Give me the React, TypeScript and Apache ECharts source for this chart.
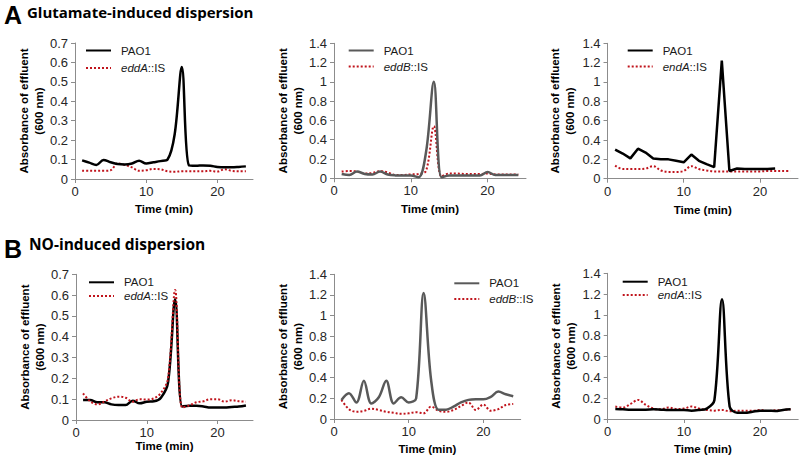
import React, { useEffect, useRef } from 'react';
import * as echarts from 'echarts';

const times = [1, 2, 3, 4, 5, 6, 7, 8, 9, 10, 11, 12, 13, 14, 15, 16, 17, 18, 19, 20, 21, 22, 23, 24];
const timesShort = [1, 2, 3, 4, 5, 6, 7, 8, 9, 10, 11, 12, 13, 14, 15, 16, 17, 18, 19, 20, 21, 22];
const xTicks = [0, 10, 20];

// A: Glutamate-induced dispersion
const a1Pao1 = [0.096, 0.084, 0.072, 0.098, 0.086, 0.077, 0.075, 0.08, 0.094, 0.08, 0.086, 0.092, 0.1, 0.23, 0.577, 0.07, 0.068, 0.07, 0.068, 0.062, 0.06, 0.06, 0.062, 0.065];
const a1Edda = [0.043, 0.042, 0.042, 0.042, 0.045, 0.08, 0.072, 0.06, 0.042, 0.045, 0.052, 0.05, 0.04, 0.037, 0.04, 0.04, 0.04, 0.04, 0.042, 0.038, 0.05, 0.042, 0.04, 0.04];
const a2Pao1 = [0.045, 0.035, 0.07, 0.045, 0.04, 0.07, 0.04, 0.03, 0.028, 0.03, 0.01, 0.28, 1.0, 0.01, 0.03, 0.03, 0.03, 0.03, 0.03, 0.065, 0.035, 0.035, 0.035, 0.035];
const a2Eddb = [0.07, 0.075, 0.07, 0.05, 0.055, 0.075, 0.06, 0.035, 0.035, 0.04, 0.045, 0.08, 0.54, 0.02, 0.05, 0.05, 0.045, 0.045, 0.045, 0.05, 0.04, 0.04, 0.04, 0.04];
const a3Pao1 = [0.3, 0.26, 0.21, 0.31, 0.27, 0.21, 0.2, 0.2, 0.185, 0.17, 0.25, 0.185, 0.15, 0.12, 1.22, 0.08, 0.105, 0.1, 0.1, 0.1, 0.1, 0.105];
const a3Enda = [0.135, 0.1, 0.1, 0.1, 0.105, 0.13, 0.085, 0.07, 0.07, 0.08, 0.13, 0.1, 0.085, 0.075, 0.075, 0.075, 0.075, 0.075, 0.075, 0.075, 0.08, 0.08, 0.08, 0.08];

// B: NO-induced dispersion
const b1Pao1 = [0.096, 0.096, 0.085, 0.085, 0.075, 0.072, 0.072, 0.093, 0.08, 0.088, 0.09, 0.107, 0.18, 0.58, 0.065, 0.068, 0.068, 0.065, 0.06, 0.06, 0.06, 0.063, 0.065, 0.07];
const b1Edda = [0.128, 0.09, 0.075, 0.088, 0.104, 0.112, 0.107, 0.088, 0.1, 0.098, 0.104, 0.13, 0.2, 0.625, 0.06, 0.07, 0.085, 0.09, 0.1, 0.1, 0.088, 0.095, 0.09, 0.088];
const b2Pao1 = [0.185, 0.25, 0.16, 0.37, 0.15, 0.21, 0.37, 0.15, 0.21, 0.16, 0.2, 1.22, 0.38, 0.09, 0.09, 0.12, 0.16, 0.185, 0.19, 0.19, 0.215, 0.265, 0.24, 0.22];
const b2Eddb = [0.185, 0.095, 0.07, 0.078, 0.1, 0.087, 0.07, 0.06, 0.05, 0.055, 0.065, 0.055, 0.12, 0.08, 0.07, 0.087, 0.125, 0.16, 0.087, 0.14, 0.08, 0.095, 0.135, 0.145];
const b3Pao1 = [0.095, 0.093, 0.09, 0.09, 0.09, 0.093, 0.09, 0.087, 0.087, 0.087, 0.08, 0.087, 0.1, 0.18, 1.15, 0.12, 0.06, 0.06, 0.07, 0.08, 0.08, 0.077, 0.087, 0.093];
const b3Enda = [0.12, 0.11, 0.145, 0.183, 0.135, 0.1, 0.093, 0.11, 0.096, 0.1, 0.12, 0.1, 0.087, 0.08, 0.087, 0.074, 0.08, 0.08, 0.08, 0.087, 0.077, 0.083, 0.087, 0.093];

const titleA = 'Glutamate-induced dispersion';
const titleB = 'NO-induced dispersion';
const yName = 'Absorbance of effluent\n(600 nm)';
const xName = 'Time (min)';

const ARIAL = '"Liberation Sans", Arial, sans-serif';
const RED = '#c0141c';

type Panel = {
  grid: { left: number; top: number; width: number; height: number };
  ymax: number; yint: number;
  legend: { left: number; top: number; gap: number };
  gapY: number; gapX: number;
  paoColor: string; paoSmooth: boolean;
  paoX: number[]; pao: number[];
  mutLabel: string; mutX: number[]; mut: number[];
};

const panels: Panel[] = [
  { grid: { left: 75, top: 43, width: 178, height: 136 }, ymax: 0.7, yint: 0.1, legend: { left: 85, top: 44.5, gap: 5.6 }, gapY: 24, gapX: 24, paoColor: '#000', paoSmooth: true, paoX: times, pao: a1Pao1, mutLabel: 'eddA', mutX: times, mut: a1Edda },
  { grid: { left: 334, top: 43.3, width: 192, height: 135 }, ymax: 1.4, yint: 0.2, legend: { left: 347.7, top: 44.5, gap: 4 }, gapY: 27, gapX: 24.5, paoColor: '#595959', paoSmooth: true, paoX: times, pao: a2Pao1, mutLabel: 'eddB', mutX: times, mut: a2Eddb },
  { grid: { left: 607.5, top: 43.3, width: 190.5, height: 135.4 }, ymax: 1.4, yint: 0.2, legend: { left: 626.7, top: 44.5, gap: 4 }, gapY: 30, gapX: 25, paoColor: '#000', paoSmooth: false, paoX: timesShort, pao: a3Pao1, mutLabel: 'endA', mutX: times, mut: a3Enda },
  { grid: { left: 76, top: 274.3, width: 177, height: 145.7 }, ymax: 0.7, yint: 0.1, legend: { left: 88, top: 276.3, gap: 1.7 }, gapY: 26, gapX: 19, paoColor: '#000', paoSmooth: true, paoX: times, pao: b1Pao1, mutLabel: 'eddA', mutX: times, mut: b1Edda },
  { grid: { left: 334, top: 274.3, width: 186.7, height: 144.7 }, ymax: 1.4, yint: 0.2, legend: { left: 453.3, top: 277.3, gap: 3.7 }, gapY: 23.5, gapX: 24, paoColor: '#595959', paoSmooth: true, paoX: times, pao: b2Pao1, mutLabel: 'eddB', mutX: times, mut: b2Eddb },
  { grid: { left: 607.7, top: 273.3, width: 190.5, height: 145.7 }, ymax: 1.4, yint: 0.2, legend: { left: 621.7, top: 275.7, gap: 1.3 }, gapY: 27, gapX: 24, paoColor: '#000', paoSmooth: true, paoX: times, pao: b3Pao1, mutLabel: 'endA', mutX: times, mut: b3Enda },
];

function buildOption() {
  const grids: any[] = [];
  const xAxes: any[] = [];
  const yAxes: any[] = [];
  const legends: any[] = [];
  const series: any[] = [];
  const nameMap: Record<string, string> = {};
  const axisLineStyle = { color: '#8c8c8c', width: 1 };

  panels.forEach((p, i) => {
    grids.push({ ...p.grid, containLabel: false });
    xAxes.push({
      type: 'value', gridIndex: i, min: 0, max: 25, interval: 10,
      name: xName, nameLocation: 'middle', nameGap: p.gapX,
      nameTextStyle: { fontFamily: ARIAL, fontWeight: 'bold', fontSize: 11.5, color: '#000' },
      axisLine: { show: true, lineStyle: axisLineStyle },
      axisTick: { show: true, length: 4, lineStyle: axisLineStyle, customValues: xTicks },
      axisLabel: { fontFamily: ARIAL, fontSize: 13, color: '#262626', margin: 6, customValues: xTicks },
      splitLine: { show: false },
    });
    yAxes.push({
      type: 'value', gridIndex: i, min: 0, max: p.ymax, interval: p.yint,
      name: yName, nameLocation: 'middle', nameGap: p.gapY,
      nameTextStyle: { fontFamily: ARIAL, fontWeight: 'bold', fontSize: 11.5, color: '#000', lineHeight: 15 },
      axisLine: { show: true, lineStyle: axisLineStyle },
      axisTick: { show: true, length: 4, lineStyle: axisLineStyle },
      axisLabel: { fontFamily: ARIAL, fontSize: 13, color: '#262626', margin: 7 },
      splitLine: { show: false },
    });
    const paoName = `pao_${i}`;
    const mutName = `mut_${i}`;
    nameMap[paoName] = '{n|PAO1}';
    nameMap[mutName] = `{i|${p.mutLabel}}{n|::IS}`;
    series.push({
      name: paoName, type: 'line', xAxisIndex: i, yAxisIndex: i,
      data: p.paoX.map((t, k) => [t, p.pao[k]]),
      symbol: 'none', smooth: p.paoSmooth ? 0.35 : false,
      lineStyle: { color: p.paoColor, width: 2.5 }, itemStyle: { color: p.paoColor },
      z: 3,
    });
    series.push({
      name: mutName, type: 'line', xAxisIndex: i, yAxisIndex: i,
      data: p.mutX.map((t, k) => [t, p.mut[k]]),
      symbol: 'none', smooth: 0.35,
      lineStyle: { color: RED, width: 2, type: [2, 2] }, itemStyle: { color: RED },
      z: i === 3 ? 4 : 2,
    });
    legends.push({
      data: [paoName, mutName], orient: 'vertical', left: p.legend.left, top: p.legend.top,
      itemWidth: 25, itemHeight: 12, itemGap: p.legend.gap, padding: 0, selectedMode: false,
      itemStyle: { opacity: 0 },
      formatter: (name: string) => nameMap[name],
      textStyle: {
        padding: [0, 0, 0, 5],
        rich: {
          n: { fontFamily: ARIAL, fontSize: 11.5, color: '#1a1a1a' },
          i: { fontFamily: ARIAL, fontSize: 11.5, color: '#1a1a1a', fontStyle: 'italic' },
        },
      },
    });
  });

  return {
    animation: false,
    backgroundColor: '#ffffff',
    grid: grids, xAxis: xAxes, yAxis: yAxes, legend: legends, series,
    graphic: [
      { type: 'text', left: 4, top: 2, style: { text: 'A', font: `bold 25px ${ARIAL}`, fill: '#000' } },
      { type: 'text', left: 27, top: 4, style: { text: titleA, font: 'bold 15px "Open Sans", sans-serif', fill: '#000' } },
      { type: 'text', left: 4, top: 236, style: { text: 'B', font: `bold 25px ${ARIAL}`, fill: '#000' } },
      { type: 'text', left: 29, top: 236, style: { text: titleB, font: 'bold 15.5px "Open Sans", sans-serif', fill: '#000' } },
    ],
  };
}

export default function App() {
  const ref = useRef<HTMLDivElement>(null);
  useEffect(() => {
    if (!ref.current) return;
    const chart = echarts.init(ref.current, undefined, { renderer: 'svg' });
    chart.setOption(buildOption() as any);
    return () => chart.dispose();
  }, []);
  return <div ref={ref} style={{ position: 'absolute', left: 0, top: 0, width: 800, height: 457 }} />;
}
